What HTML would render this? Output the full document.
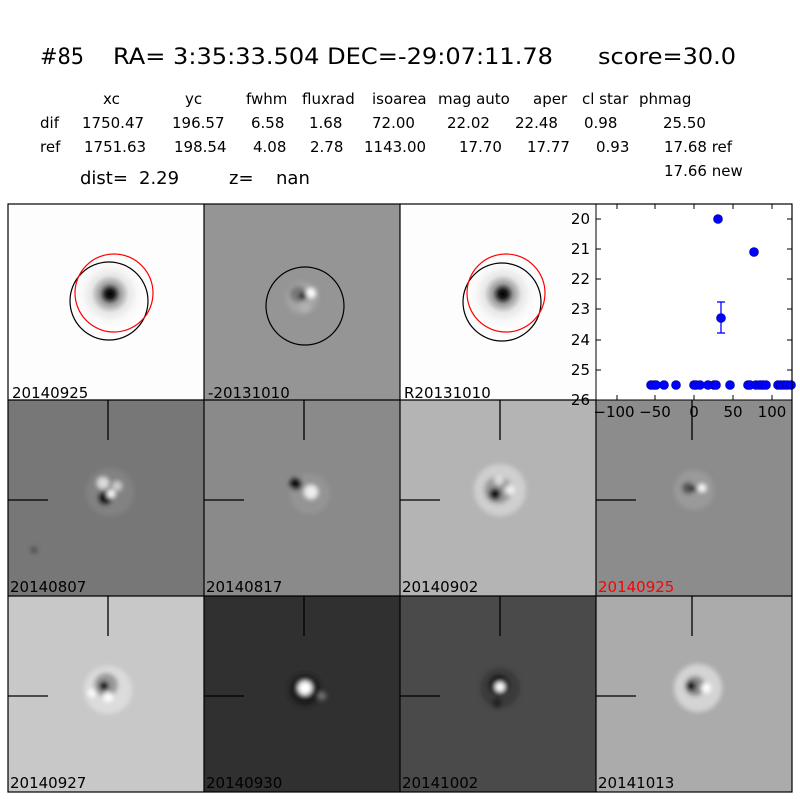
<!DOCTYPE html>
<html><head><meta charset="utf-8"><style>
html,body{margin:0;padding:0;background:#fff;}
svg{display:block;font-family:"DejaVu Sans","Liberation Sans",sans-serif;}
</style></head><body>
<svg width="800" height="800" viewBox="0 0 800 800" xmlns="http://www.w3.org/2000/svg">
<defs>
<filter id="b2" x="-100%" y="-100%" width="300%" height="300%"><feGaussianBlur stdDeviation="2.5"/></filter>
<radialGradient id="star"><stop offset="0" stop-color="#000"/><stop offset="0.12" stop-color="#1a1a1a"/><stop offset="0.3" stop-color="#999"/><stop offset="0.55" stop-color="#e6e6e6"/><stop offset="0.8" stop-color="#f8f8f8"/><stop offset="1" stop-color="#fdfdfd"/></radialGradient>
</defs>
<rect width="800" height="800" fill="#fff"/>

<!-- header -->
<g font-size="22" fill="#000">
<text x="40" y="64" textLength="44" lengthAdjust="spacingAndGlyphs">#85</text>
<text x="113" y="64" textLength="440" lengthAdjust="spacingAndGlyphs">RA= 3:35:33.504 DEC=-29:07:11.78</text>
<text x="598" y="64" textLength="138" lengthAdjust="spacingAndGlyphs">score=30.0</text>
</g>
<g font-size="15" fill="#000">
<text x="103" y="104">xc</text><text x="185" y="104">yc</text><text x="246" y="104">fwhm</text><text x="302" y="104">fluxrad</text><text x="372" y="104">isoarea</text><text x="438" y="104">mag auto</text><text x="533" y="104">aper</text><text x="582" y="104">cl star</text><text x="639" y="104">phmag</text>
<text x="40" y="128">dif</text><text x="82" y="128">1750.47</text><text x="172" y="128">196.57</text><text x="251" y="128">6.58</text><text x="309" y="128">1.68</text><text x="372" y="128">72.00</text><text x="447" y="128">22.02</text><text x="515" y="128">22.48</text><text x="584" y="128">0.98</text><text x="663" y="128">25.50</text>
<text x="40" y="152">ref</text><text x="84" y="152">1751.63</text><text x="174" y="152">198.54</text><text x="253" y="152">4.08</text><text x="310" y="152">2.78</text><text x="364" y="152">1143.00</text><text x="459" y="152">17.70</text><text x="527" y="152">17.77</text><text x="596" y="152">0.93</text><text x="664" y="152">17.68 ref</text>
<text x="664" y="176">17.66 new</text>
</g>
<g font-size="18" fill="#000">
<text x="80" y="184">dist=</text><text x="139" y="184">2.29</text><text x="229" y="184">z=</text><text x="276" y="184">nan</text>
</g>

<!-- row 1 -->
<rect x="8" y="204" width="196" height="196" fill="#fdfdfd"/>
<circle cx="110" cy="294" r="34" fill="url(#star)"/>
<circle cx="109" cy="301" r="39" fill="none" stroke="#000" stroke-width="1.2"/>
<circle cx="114" cy="293" r="39" fill="none" stroke="#f00" stroke-width="1.2"/>

<rect x="204" y="204" width="196" height="196" fill="#959595"/>
<g filter="url(#b2)"><circle cx="302" cy="298" r="16" fill="#a4a4a4"/><circle cx="298" cy="294" r="8" fill="#777"/><circle cx="303" cy="296" r="4" fill="#111"/><circle cx="311" cy="293" r="5" fill="#fff"/><circle cx="305" cy="307" r="6" fill="#b0b0b0"/></g>
<circle cx="305" cy="306" r="39" fill="none" stroke="#000" stroke-width="1.2"/>

<rect x="400" y="204" width="196" height="196" fill="#fdfdfd"/>
<circle cx="503" cy="294" r="34" fill="url(#star)"/>
<circle cx="502" cy="302" r="39" fill="none" stroke="#000" stroke-width="1.2"/>
<circle cx="506" cy="293" r="39" fill="none" stroke="#f00" stroke-width="1.2"/>

<!-- row 2 -->
<rect x="8" y="400" width="196" height="196" fill="#777"/>
<g filter="url(#b2)"><circle cx="110" cy="492" r="24" fill="#828282"/><circle cx="103" cy="483" r="6" fill="#ddd"/><circle cx="117" cy="486" r="5" fill="#ccc"/><circle cx="105" cy="498" r="7" fill="#111"/><circle cx="111" cy="494" r="4" fill="#fff"/></g>
<circle cx="34" cy="550" r="3" fill="#444" filter="url(#b2)"/>

<rect x="204" y="400" width="196" height="196" fill="#8a8a8a"/>
<g filter="url(#b2)"><circle cx="310" cy="494" r="20" fill="#949494"/><circle cx="296" cy="484" r="6" fill="#111"/><circle cx="311" cy="492" r="7" fill="#eee"/></g>

<rect x="400" y="400" width="196" height="196" fill="#b4b4b4"/>
<g filter="url(#b2)"><circle cx="500" cy="490" r="26" fill="#cfcfcf"/><circle cx="498" cy="490" r="14" fill="#999"/><circle cx="495" cy="494" r="6" fill="#111"/><circle cx="499" cy="480" r="5" fill="#ddd"/><circle cx="510" cy="490" r="5" fill="#eee"/></g>

<rect x="596" y="400" width="196" height="196" fill="#8c8c8c"/>
<g filter="url(#b2)"><circle cx="694" cy="490" r="20" fill="#9a9a9a"/><circle cx="688" cy="488" r="6" fill="#555"/><circle cx="693" cy="489" r="3" fill="#000"/><circle cx="702" cy="488" r="4" fill="#fff"/></g>

<!-- row 3 -->
<rect x="8" y="596" width="196" height="196" fill="#c8c8c8"/>
<g filter="url(#b2)"><circle cx="108" cy="690" r="24" fill="#dcdcdc"/><circle cx="106" cy="685" r="12" fill="#999"/><circle cx="104" cy="686" r="5" fill="#000"/><circle cx="108" cy="697" r="5" fill="#fff"/><circle cx="92" cy="693" r="4" fill="#fff"/></g>

<rect x="204" y="596" width="196" height="196" fill="#303030"/>
<g filter="url(#b2)"><circle cx="305" cy="690" r="16" fill="#1e1e1e"/><circle cx="305" cy="688" r="7" fill="#fff"/><circle cx="322" cy="696" r="4" fill="#777"/></g>

<rect x="400" y="596" width="196" height="196" fill="#4a4a4a"/>
<g filter="url(#b2)"><circle cx="500" cy="688" r="20" fill="#3a3a3a"/><circle cx="499" cy="685" r="10" fill="#111"/><circle cx="500" cy="687" r="5" fill="#fff"/><circle cx="497" cy="703" r="5" fill="#222"/></g>

<rect x="596" y="596" width="196" height="196" fill="#ababab"/>
<g filter="url(#b2)"><circle cx="698" cy="688" r="24" fill="#d4d4d4"/><circle cx="695" cy="686" r="10" fill="#888"/><circle cx="691" cy="686" r="5" fill="#000"/><circle cx="706" cy="688" r="5" fill="#fff"/></g>

<!-- crosshair ticks -->
<g stroke="#000" stroke-width="1.3">
<line x1="108" y1="400" x2="108" y2="440"/><line x1="8" y1="500" x2="48" y2="500"/>
<line x1="304" y1="400" x2="304" y2="440"/><line x1="204" y1="500" x2="244" y2="500"/>
<line x1="500" y1="400" x2="500" y2="440"/><line x1="400" y1="500" x2="440" y2="500"/>
<line x1="692" y1="400" x2="692" y2="440"/><line x1="596" y1="500" x2="636" y2="500"/>
<line x1="108" y1="596" x2="108" y2="636"/><line x1="8" y1="696" x2="48" y2="696"/>
<line x1="304" y1="596" x2="304" y2="636"/><line x1="204" y1="696" x2="244" y2="696"/>
<line x1="500" y1="596" x2="500" y2="636"/><line x1="400" y1="696" x2="440" y2="696"/>
<line x1="692" y1="596" x2="692" y2="636"/><line x1="596" y1="696" x2="636" y2="696"/>
</g>

<!-- scatter -->
<rect x="596" y="204" width="196" height="196" fill="#fff"/>
<g stroke="#000" stroke-width="1">
<line x1="617" y1="204" x2="617" y2="209"/><line x1="655" y1="204" x2="655" y2="209"/><line x1="694" y1="204" x2="694" y2="209"/><line x1="733" y1="204" x2="733" y2="209"/><line x1="772" y1="204" x2="772" y2="209"/>
<line x1="617" y1="400" x2="617" y2="395"/><line x1="655" y1="400" x2="655" y2="395"/><line x1="694" y1="400" x2="694" y2="395"/><line x1="733" y1="400" x2="733" y2="395"/><line x1="772" y1="400" x2="772" y2="395"/>
<line x1="596" y1="219" x2="601" y2="219"/><line x1="596" y1="249" x2="601" y2="249"/><line x1="596" y1="279" x2="601" y2="279"/><line x1="596" y1="309" x2="601" y2="309"/><line x1="596" y1="340" x2="601" y2="340"/><line x1="596" y1="370" x2="601" y2="370"/>
<line x1="792" y1="219" x2="787" y2="219"/><line x1="792" y1="249" x2="787" y2="249"/><line x1="792" y1="279" x2="787" y2="279"/><line x1="792" y1="309" x2="787" y2="309"/><line x1="792" y1="340" x2="787" y2="340"/><line x1="792" y1="370" x2="787" y2="370"/>
</g>
<g stroke="#00f" stroke-width="1.3">
<line x1="721" y1="302" x2="721" y2="333"/><line x1="717" y1="302" x2="725" y2="302"/><line x1="717" y1="333" x2="725" y2="333"/>
</g>
<g fill="#00f" stroke="#00008b" stroke-width="0.6">
<circle cx="718" cy="219" r="4.5"/><circle cx="754" cy="252" r="4.5"/><circle cx="721" cy="318" r="4.5"/>
<circle cx="651" cy="385" r="4.5"/><circle cx="654" cy="385" r="4.5"/><circle cx="656" cy="385" r="4.5"/><circle cx="664" cy="385" r="4.5"/><circle cx="676" cy="385" r="4.5"/>
<circle cx="694" cy="385" r="4.5"/><circle cx="696" cy="385" r="4.5"/><circle cx="700" cy="385" r="4.5"/><circle cx="708" cy="385" r="4.5"/><circle cx="714" cy="385" r="4.5"/><circle cx="716" cy="385" r="4.5"/><circle cx="730" cy="385" r="4.5"/>
<circle cx="748" cy="385" r="4.5"/><circle cx="750" cy="385" r="4.5"/><circle cx="756" cy="385" r="4.5"/><circle cx="760" cy="385" r="4.5"/><circle cx="763" cy="385" r="4.5"/><circle cx="766" cy="385" r="4.5"/>
<circle cx="778" cy="385" r="4.5"/><circle cx="781" cy="385" r="4.5"/><circle cx="784" cy="385" r="4.5"/><circle cx="787" cy="385" r="4.5"/><circle cx="791" cy="385" r="4.5"/>
</g>
<rect x="596" y="204" width="196" height="196" fill="none" stroke="#000" stroke-width="1"/>
<g font-size="15" fill="#000" text-anchor="end">
<text x="590" y="224">20</text><text x="590" y="254">21</text><text x="590" y="284">22</text><text x="590" y="314">23</text><text x="590" y="345">24</text><text x="590" y="375">25</text><text x="590" y="405">26</text>
</g>
<g font-size="15" fill="#000" text-anchor="middle">
<text x="614" y="417">−100</text><text x="655" y="417">−50</text><text x="694" y="417">0</text><text x="733" y="417">50</text><text x="772" y="417">100</text>
</g>

<!-- panel borders -->
<g fill="none" stroke="#000" stroke-width="1.2">
<rect x="8" y="204" width="784" height="588"/>
<line x1="204" y1="204" x2="204" y2="792"/><line x1="400" y1="204" x2="400" y2="792"/><line x1="596" y1="400" x2="596" y2="792"/>
<line x1="8" y1="400" x2="596" y2="400"/><line x1="8" y1="596" x2="792" y2="596"/>
</g>

<!-- labels -->
<g font-size="15" fill="#000">
<text x="12" y="398">20140925</text><text x="208" y="398">-20131010</text><text x="404" y="398">R20131010</text>
<text x="10" y="592">20140807</text><text x="206" y="592">20140817</text><text x="402" y="592">20140902</text><text x="598" y="592" fill="#f00">20140925</text>
<text x="10" y="788">20140927</text><text x="206" y="788">20140930</text><text x="402" y="788">20141002</text><text x="598" y="788">20141013</text>
</g>
</svg>
</body></html>
